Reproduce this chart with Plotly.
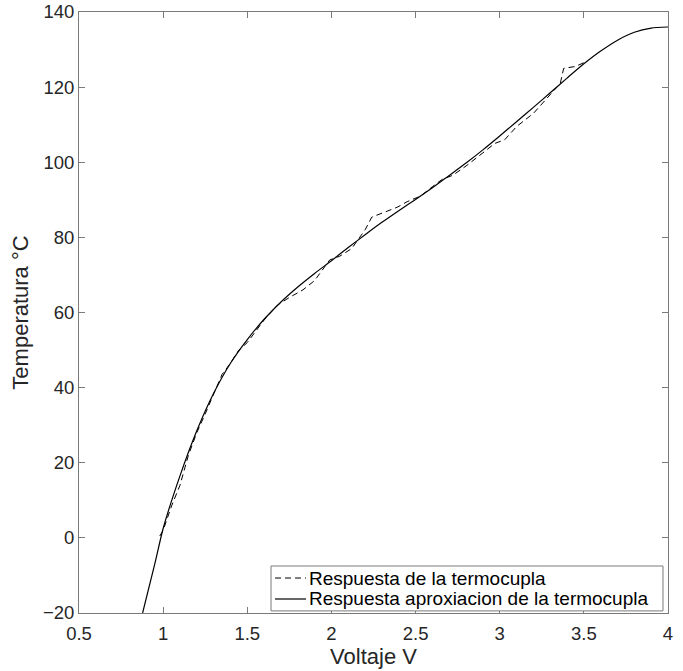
import plotly.graph_objects as go

# Measured thermocouple response (dashed)
v_meas = [0.98, 1.00, 1.05, 1.10, 1.15, 1.20, 1.25, 1.30, 1.35, 1.40, 1.45, 1.50,
          1.55, 1.60, 1.68, 1.75, 1.83, 1.90, 1.99, 2.05, 2.12, 2.20, 2.24, 2.30,
          2.39, 2.45, 2.53, 2.60, 2.66, 2.72, 2.80, 2.90, 2.97, 3.03, 3.10, 3.20,
          3.28, 3.36, 3.38, 3.45, 3.50]
t_meas = [0.5, 2.0, 8.5, 14.0, 22.0, 28.0, 33.0, 38.5, 43.5, 46.5, 50.0, 52.0,
          55.0, 58.0, 62.0, 64.0, 66.0, 68.5, 74.0, 75.0, 77.0, 82.0, 85.4, 86.5,
          88.0, 89.5, 91.0, 93.5, 95.5, 96.5, 99.0, 102.5, 105.0, 106.0, 109.5, 113.0,
          117.0, 121.0, 125.0, 125.5, 126.5]

# Approximated response (solid)
v_fit = [0.878, 0.95, 1.0, 1.1, 1.2, 1.3, 1.4, 1.5, 1.6, 1.7, 1.8, 1.9, 2.0, 2.1,
         2.2, 2.3, 2.4, 2.5, 2.6, 2.7, 2.8, 2.9, 3.0, 3.1, 3.2, 3.3, 3.4, 3.5,
         3.6, 3.7, 3.8, 3.9, 4.0]
t_fit = [-20, -7, 2.5, 16.5, 28.5, 38.5, 46.5, 52.8, 58.2, 62.8, 66.8, 70.4, 73.8, 77.3,
         80.7, 84.0, 87.1, 90.1, 93.2, 96.5, 99.8, 103.3, 107.0, 110.8, 114.6, 118.5, 122.4, 126.2,
         129.6, 132.5, 134.6, 135.7, 136]

x_ticks = [0.5, 1, 1.5, 2, 2.5, 3, 3.5, 4]
y_ticks = [-20, 0, 20, 40, 60, 80, 100, 120, 140]

names = ["Respuesta de la termocupla", "Respuesta aproxiacion de la termocupla"]

FONT = "Liberation Sans, Arial"
AXC = "#7a7a7a"

fig = go.Figure()
fig.add_trace(go.Scatter(x=v_meas, y=t_meas, mode="lines",
                         line=dict(color="black", width=1, dash="6px,4px"),
                         name=names[0]))
fig.add_trace(go.Scatter(x=v_fit, y=t_fit, mode="lines",
                         line=dict(color="black", width=1.2, shape="spline", smoothing=0.6),
                         name=names[1]))

axis_common = dict(showline=True, mirror="ticks", linecolor=AXC, linewidth=1,
                   ticks="inside", ticklen=6, tickcolor=AXC,
                   showgrid=False, zeroline=False, automargin=False,
                   tickfont=dict(family=FONT, size=18.5, color="#262626"))

# Custom legend box (MATLAB style, compact rows)
shapes = [dict(type="rect", xref="paper", yref="paper", x0=0.326, x1=0.9915,
               y0=0.0035, y1=0.0782, line=dict(color=AXC, width=1),
               fillcolor="white", layer="above")]
shapes.append(dict(type="line", xref="paper", yref="paper", x0=0.3328, x1=0.3854,
                   y0=0.0582, y1=0.0582, line=dict(color="black", width=1, dash="6px,4px"),
                   layer="above"))
shapes.append(dict(type="line", xref="paper", yref="paper", x0=0.3328, x1=0.3854,
                   y0=0.0233, y1=0.0233, line=dict(color="black", width=1.2),
                   layer="above"))
annotations = [
    dict(text=names[0], xref="paper", yref="paper", x=0.3875, y=0.0582,
         xanchor="left", yanchor="middle", showarrow=False,
         font=dict(family=FONT, size=19, color="black")),
    dict(text=names[1], xref="paper", yref="paper", x=0.3875, y=0.0233,
         xanchor="left", yanchor="middle", showarrow=False,
         font=dict(family=FONT, size=19, color="black")),
]

fig.update_layout(
    width=683, height=671,
    margin=dict(l=79, r=15, t=12, b=58),
    plot_bgcolor="white", paper_bgcolor="white",
    font=dict(family=FONT, color="#262626"),
    xaxis=dict(range=[0.5, 4], tickvals=x_ticks, ticktext=[str(t) for t in x_ticks],
               ticklabelstandoff=4,
               title=dict(text="Voltaje V", font=dict(size=22), standoff=2), **axis_common),
    yaxis=dict(range=[-20, 140], tickvals=y_ticks,
               title=dict(text="Temperatura °C", font=dict(size=22), standoff=8), **axis_common),
    showlegend=False,
    shapes=shapes,
    annotations=annotations,
)

fig.write_html("out.html", config={"displayModeBar": False},
               post_script="document.body.style.margin='0';")
